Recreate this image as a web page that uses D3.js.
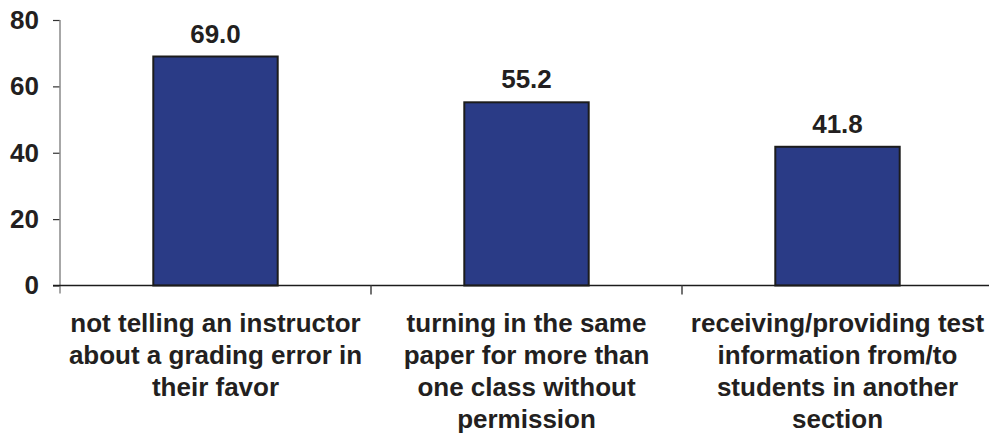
<!DOCTYPE html>
<html>
<head>
<meta charset="utf-8">
<script src="https://cdn.jsdelivr.net/npm/d3@7/dist/d3.min.js"></script>
<style>
  html, body { margin: 0; padding: 0; background: #fff; }
  svg { display: block; }
  text { font-family: "Liberation Sans", Arial, sans-serif; font-weight: bold; fill: #231f20; }
</style>
</head>
<body>
<svg id="chart" width="989" height="434"></svg>
<script>
// Behaviours surveyed and the percentage for each
const categories = [
  ["not telling an instructor", "about a grading error in", "their favor"],
  ["turning in the same", "paper for more than", "one class without", "permission"],
  ["receiving/providing test", "information from/to", "students in another", "section"]
];
const values = [69.0, 55.2, 41.8];
const yTicks = [0, 20, 40, 60, 80];

const svg = d3.select("#chart");
const plotLeft = 60, plotRight = 993, plotTop = 20, plotBottom = 285.5;

const keys = categories.map((c, i) => i);
const x = d3.scaleBand().domain(keys).range([plotLeft, plotRight])
  .paddingInner(0.6).paddingOuter(0.3);
const slot = d3.scaleBand().domain(keys).range([plotLeft, plotRight]).padding(0);
const y = d3.scaleLinear().domain([0, 80]).range([plotBottom, plotTop]);

// Bars
svg.append("g").selectAll("rect").data(values).join("rect")
  .attr("x", (d, i) => x(i))
  .attr("y", d => y(d))
  .attr("width", x.bandwidth())
  .attr("height", d => y(0) - y(d))
  .attr("fill", "#2a3b86")
  .attr("stroke", "#1c1c1c")
  .attr("stroke-width", 2);

// Value labels above bars
svg.append("g").selectAll("text").data(values).join("text")
  .attr("x", (d, i) => x(i) + x.bandwidth() / 2)
  .attr("y", d => y(d) - 14)
  .attr("text-anchor", "middle")
  .style("font-size", "26px")
  .text(d => d.toFixed(1));

// Y axis
const yAxis = d3.axisLeft(y).tickValues(yTicks).tickSize(7).tickPadding(14);
const gy = svg.append("g").attr("transform", `translate(${plotLeft},0)`).call(yAxis);
gy.select(".domain").remove();
gy.selectAll(".tick line").attr("stroke", "#333").attr("stroke-width", 1.2);
gy.selectAll(".tick text").style("font-size", "26px").attr("fill", "#231f20")
  .style("font-family", "'Liberation Sans', Arial, sans-serif").style("font-weight", "bold");
svg.append("line")
  .attr("x1", plotLeft).attr("x2", plotLeft)
  .attr("y1", y(80)).attr("y2", plotBottom + 8)
  .attr("stroke", "#8a8a8a").attr("stroke-width", 1.5);

// X axis baseline and category dividers
svg.append("line")
  .attr("x1", plotLeft - 7).attr("x2", plotRight)
  .attr("y1", plotBottom).attr("y2", plotBottom)
  .attr("stroke", "#1c1c1c").attr("stroke-width", 1.5);
svg.append("g").selectAll("line").data(keys.slice(1)).join("line")
  .attr("x1", d => slot(d)).attr("x2", d => slot(d))
  .attr("y1", plotBottom).attr("y2", plotBottom + 9)
  .attr("stroke", "#444").attr("stroke-width", 1.5);

// Category labels
const labels = svg.append("g").selectAll("text").data(categories).join("text")
  .attr("x", (d, i) => slot(i) + slot.bandwidth() / 2)
  .attr("y", 332)
  .attr("text-anchor", "middle")
  .style("font-size", "26px");
labels.each(function(lines, i) {
  d3.select(this).selectAll("tspan").data(lines).join("tspan")
    .attr("x", slot(i) + slot.bandwidth() / 2)
    .attr("y", (l, j) => 332 + j * 32)
    .text(l => l);
});
</script>
</body>
</html>
